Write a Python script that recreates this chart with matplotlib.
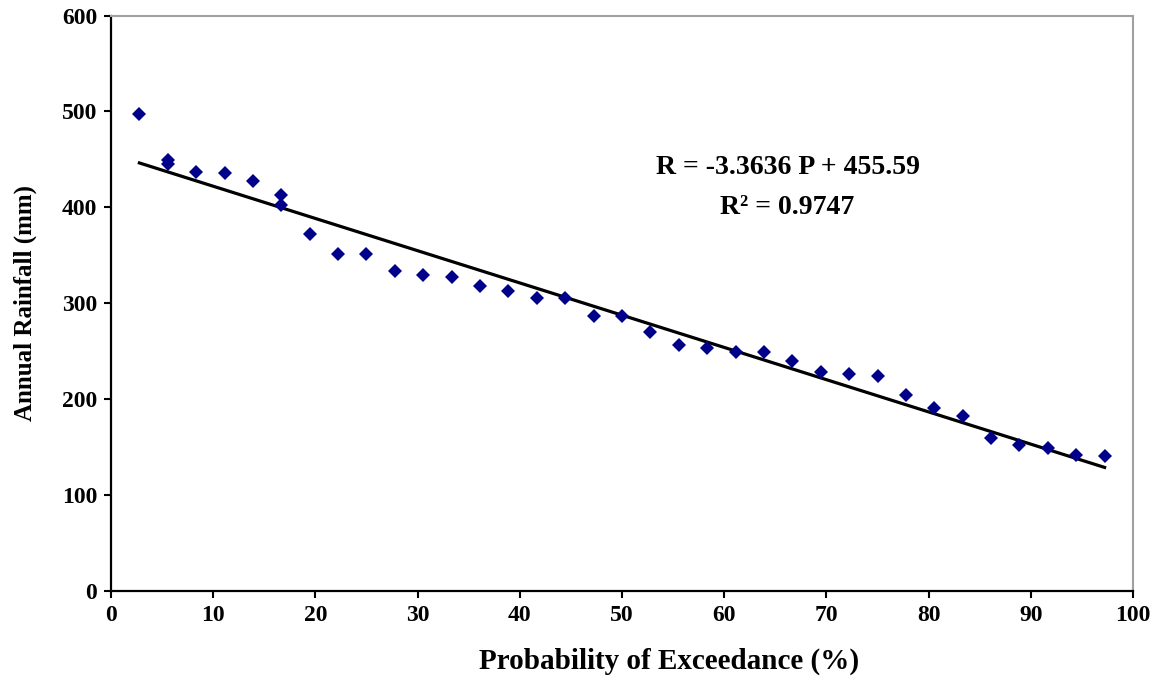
import matplotlib
matplotlib.use("Agg")
import matplotlib.pyplot as plt
import numpy as np

# Data
prob = [2.78, 5.56, 5.56, 8.33, 11.11, 13.89, 16.67, 16.67, 19.44, 22.22, 25.00,
        27.78, 30.56, 33.33, 36.11, 38.89, 41.67, 44.44, 47.22, 50.00, 52.78,
        55.56, 58.33, 61.11, 63.89, 66.67, 69.44, 72.22, 75.00, 77.78, 80.56,
        83.33, 86.11, 88.89, 91.67, 94.44, 97.22]
rain = [497, 449, 445, 437, 436, 427, 413, 402, 372, 351, 351,
        334, 329, 327, 318, 313, 305, 305, 287, 287, 270,
        256, 253, 249, 249, 240, 228, 226, 224, 204, 191,
        182, 159, 152, 149, 142, 141]
slope = -3.3636
intercept = 455.59
r2 = 0.9747

xticks = list(range(0, 101, 10))
yticks = list(range(0, 601, 100))

plt.rcParams['font.family'] = ['Liberation Serif', 'DejaVu Serif']
plt.rcParams['font.weight'] = 'bold'

fig = plt.figure(figsize=(11.67, 6.76), dpi=100)
ax = fig.add_axes([0.0951, 0.1262, 0.8758, 0.8508])

xl = np.array([prob[0], prob[-1]])
ax.plot(xl, slope * xl + intercept, color='black', lw=2.3, zorder=2)
ax.plot(prob, rain, linestyle='none', marker='D', markersize=7,
        color='#00008B', markeredgewidth=0, zorder=3)

ax.set_xlim(0, 100)
ax.set_ylim(0, 600)
ax.set_xticks(xticks)
ax.set_yticks(yticks)
ax.tick_params(direction='out', length=5, width=1.5, labelsize=17, pad=5)
for lab in ax.get_xticklabels() + ax.get_yticklabels():
    lab.set_fontweight('bold')

for s in ['left', 'bottom']:
    ax.spines[s].set_color('black')
    ax.spines[s].set_linewidth(1.6)
for s in ['top', 'right']:
    ax.spines[s].set_color('#A0A0A0')
    ax.spines[s].set_linewidth(1.5)

ax.set_xlabel('Probability of Exceedance (%)', fontsize=21, fontweight='bold', labelpad=16)
ax.xaxis.label.set_x(0.546)
ax.set_ylabel('Annual Rainfall (mm)', fontsize=18, fontweight='bold', labelpad=18)

ax.text(66.2, 441, f'R = {slope} P + {intercept}', ha='center', va='center',
        fontsize=20, fontweight='bold')
ax.text(66.2, 400, f'R\u00b2 = {r2}', ha='center', va='center',
        fontsize=20, fontweight='bold')

fig.savefig('out.png', dpi=100)
